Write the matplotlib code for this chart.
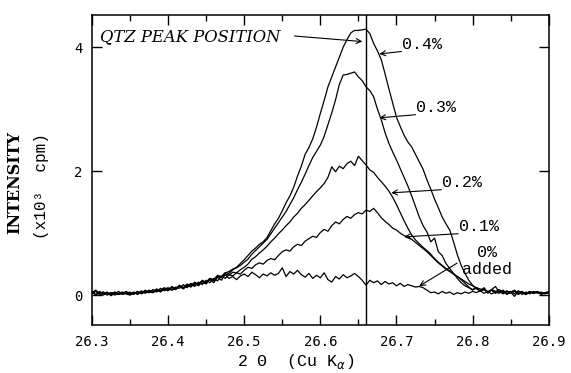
import numpy as np
import matplotlib
matplotlib.use("Agg")
import matplotlib.pyplot as plt
from matplotlib.ticker import MultipleLocator

# Scan angles (2-theta, degrees), 0.005 degree steps
two_theta = np.linspace(26.30, 26.90, 121)

# Intensities (x10^3 cpm) for each additive level
int_0 = [
    0.06, 0.00, 0.04, 0.02, 0.05, -0.01, 0.03, 0.01, 0.04, 0.02,
    0.00, 0.04, 0.02, 0.07, 0.03, 0.06, 0.04, 0.09, 0.05, 0.10,
    0.07, 0.12, 0.09, 0.14, 0.10, 0.16, 0.13, 0.19, 0.15, 0.22,
    0.18, 0.25, 0.20, 0.29, 0.24, 0.33, 0.27, 0.30, 0.25, 0.31,
    0.34, 0.30, 0.37, 0.33, 0.28, 0.34, 0.31, 0.36, 0.32, 0.35,
    0.44, 0.30, 0.38, 0.34, 0.40, 0.33, 0.29, 0.35, 0.27, 0.32,
    0.28, 0.36, 0.25, 0.21, 0.30, 0.26, 0.33, 0.28, 0.31, 0.35,
    0.30, 0.24, 0.16, 0.24, 0.20, 0.23, 0.17, 0.22, 0.18, 0.20,
    0.15, 0.19, 0.14, 0.17, 0.15, 0.13, 0.14, 0.12, 0.08, 0.04,
    0.05, 0.02, 0.06, 0.03, 0.05, 0.01, 0.04, 0.02, 0.05, 0.03,
    0.06, 0.04, 0.07, 0.03, 0.06, 0.02, 0.05, 0.03, 0.07, 0.02,
    0.05, -0.02, 0.06, 0.01, 0.05, 0.02, 0.06, 0.03, 0.05, 0.02,
    0.04,
]
int_01 = [
    0.03, 0.07, 0.01, 0.05, 0.00, 0.04, 0.02, 0.06, 0.01, 0.03,
    0.05, 0.01, 0.06, 0.03, 0.08, 0.04, 0.07, 0.05, 0.11, 0.07,
    0.11, 0.08, 0.13, 0.11, 0.17, 0.12, 0.18, 0.14, 0.21, 0.17,
    0.24, 0.20, 0.27, 0.23, 0.31, 0.27, 0.33, 0.31, 0.36, 0.34,
    0.40, 0.45, 0.43, 0.49, 0.52, 0.50, 0.56, 0.59, 0.57, 0.64,
    0.70, 0.73, 0.71, 0.78, 0.82, 0.80, 0.87, 0.91, 0.95, 0.93,
    1.01, 1.06, 1.03, 1.12, 1.18, 1.15, 1.22, 1.27, 1.24, 1.30,
    1.33, 1.31, 1.37, 1.35, 1.40, 1.33, 1.25, 1.19, 1.14, 1.08,
    1.05, 1.00, 0.96, 0.94, 0.90, 0.85, 0.80, 0.75, 0.70, 0.64,
    0.58, 0.52, 0.47, 0.42, 0.38, 0.34, 0.30, 0.26, 0.22, 0.18,
    0.15, 0.12, 0.10, 0.08, 0.06, 0.08, 0.04, 0.06, 0.03, 0.05,
    0.06, 0.02, 0.07, 0.04, 0.01, 0.05, 0.03, 0.06, 0.02, 0.04,
    0.05,
]
int_02 = [
    0.05, 0.01, 0.06, 0.02, 0.04, 0.00, 0.05, 0.02, 0.03, 0.06,
    0.02, 0.05, 0.01, 0.06, 0.04, 0.08, 0.05, 0.10, 0.06, 0.11,
    0.08, 0.14, 0.10, 0.15, 0.12, 0.18, 0.14, 0.21, 0.17, 0.24,
    0.20, 0.27, 0.23, 0.30, 0.28, 0.34, 0.32, 0.37, 0.36, 0.41,
    0.45, 0.50, 0.58, 0.62, 0.68, 0.73, 0.79, 0.86, 0.92, 0.99,
    1.05, 1.12, 1.18, 1.26, 1.32, 1.40, 1.46, 1.53, 1.60, 1.67,
    1.73, 1.80, 1.90, 2.07, 1.99, 2.08, 2.04, 2.12, 2.16, 2.09,
    2.24, 2.17, 2.10, 2.02, 1.98, 1.90, 1.83, 1.76, 1.68, 1.58,
    1.46, 1.33, 1.20, 1.08, 0.97, 0.89, 0.83, 0.77, 0.72, 0.66,
    0.59, 0.53, 0.48, 0.43, 0.39, 0.34, 0.30, 0.25, 0.19, 0.13,
    0.08, 0.12, 0.06, 0.10, 0.03, 0.09, 0.06, 0.09, 0.04, 0.07,
    0.03, 0.06, 0.01, 0.05, 0.02, 0.06, 0.03, 0.05, 0.01, 0.04,
    0.05,
]
int_03 = [
    0.04, 0.08, 0.02, 0.05, 0.01, 0.04, 0.00, 0.03, 0.05, 0.02,
    0.04, 0.02, 0.05, 0.03, 0.07, 0.04, 0.09, 0.06, 0.08, 0.12,
    0.09, 0.13, 0.10, 0.16, 0.12, 0.17, 0.15, 0.20, 0.18, 0.23,
    0.21, 0.27, 0.25, 0.32, 0.30, 0.36, 0.35, 0.41, 0.44, 0.48,
    0.53, 0.58, 0.66, 0.72, 0.78, 0.84, 0.90, 0.99, 1.08, 1.17,
    1.26, 1.35, 1.46, 1.57, 1.70, 1.82, 1.95, 2.09, 2.22, 2.32,
    2.42, 2.56, 2.75, 2.94, 3.15, 3.40, 3.55, 3.56, 3.58, 3.60,
    3.52, 3.46, 3.36, 3.30, 3.20, 3.00, 2.83, 2.62, 2.45, 2.31,
    2.18, 2.04, 1.90, 1.76, 1.60, 1.43, 1.26, 1.12, 1.02, 0.86,
    0.92, 0.70, 0.64, 0.51, 0.43, 0.35, 0.27, 0.20, 0.15, 0.12,
    0.09, 0.12, 0.06, 0.10, 0.05, 0.08, 0.03, 0.07, 0.02, 0.06,
    0.04, 0.07, 0.02, 0.05, 0.01, 0.06, 0.03, 0.05, 0.02, 0.04,
    0.03,
]
int_04 = [
    0.02, 0.06, 0.03, 0.00, 0.04, 0.02, 0.05, 0.01, 0.03, 0.04,
    0.01, 0.03, 0.06, 0.02, 0.05, 0.07, 0.04, 0.08, 0.07, 0.09,
    0.12, 0.08, 0.11, 0.15, 0.11, 0.14, 0.19, 0.16, 0.20, 0.19,
    0.20, 0.26, 0.24, 0.31, 0.29, 0.36, 0.38, 0.42, 0.45, 0.51,
    0.57, 0.64, 0.71, 0.76, 0.82, 0.86, 0.93, 1.04, 1.15, 1.24,
    1.36, 1.49, 1.60, 1.74, 1.92, 2.08, 2.27, 2.38, 2.52, 2.71,
    2.93, 3.14, 3.36, 3.52, 3.68, 3.84, 4.00, 4.12, 4.23, 4.27,
    4.27, 4.28, 4.29, 4.22, 4.06, 3.94, 3.80, 3.57, 3.33, 3.10,
    2.87, 2.72, 2.58, 2.47, 2.39, 2.27, 2.15, 2.03, 1.86, 1.71,
    1.55, 1.41, 1.26, 1.15, 1.05, 0.86, 0.65, 0.48, 0.35, 0.24,
    0.16, 0.10, 0.07, 0.12, 0.04, 0.09, 0.14, 0.05, 0.08, 0.01,
    0.05, 0.08, 0.03, 0.06, 0.02, 0.05, 0.04, 0.06, 0.02, 0.03,
    0.04,
]

series = [int_0, int_01, int_02, int_03, int_04]

# Quartz reference peak position
qtz_peak = 26.66

# Curve labels: (text, text position, arrow tip)
labels = [
    ("0.4%", (26.7076, 4.04), (26.6775, 3.89)),
    ("0.3%", (26.7260, 3.02), (26.6775, 2.86)),
    ("0.2%", (26.7600, 1.81), (26.6932, 1.65)),
    ("0.1%", (26.7820, 1.10), (26.7100, 0.94)),
]

fig = plt.figure(figsize=(5.71, 3.73), dpi=100)
ax = fig.add_axes([0.161, 0.129, 0.800, 0.831])

for y in series:
    ax.plot(two_theta, y, color="black", lw=0.9)

ax.axvline(qtz_peak, color="black", lw=1.0)

ax.set_xlim(26.3, 26.9)
ax.set_ylim(-0.48, 4.52)
ax.xaxis.set_minor_locator(MultipleLocator(0.05))
ax.yaxis.set_major_locator(MultipleLocator(2))
ax.set_xticks([26.3, 26.4, 26.5, 26.6, 26.7, 26.8, 26.9])
ax.set_xticklabels(["26.3", "26.4", "26.5", "26.6", "26.7", "26.8", "26.9"])
ax.tick_params(which="both", direction="in", top=True, right=True, width=1.0)
ax.tick_params(which="major", length=7, pad=7)
ax.tick_params(which="minor", length=4)
for lab in ax.get_xticklabels() + ax.get_yticklabels():
    lab.set_fontfamily("DejaVu Sans Mono")
    lab.set_fontsize(10)
for sp in ax.spines.values():
    sp.set_linewidth(1.1)

mono = "Liberation Mono"
arrow = dict(arrowstyle="->", color="black", lw=0.8,
             shrinkA=0, shrinkB=0, mutation_scale=9)

ax.text(26.3105, 4.17, "QTZ PEAK POSITION", family="DejaVu Serif",
        style="italic", fontsize=11.8, ha="left", va="center")
ax.annotate("", xy=(26.6552, 4.09), xytext=(26.5660, 4.18), arrowprops=arrow)

for text, (tx, ty), tip in labels:
    ax.text(tx, ty, text, family=mono, fontsize=12, ha="left", va="center")
    ax.annotate("", xy=tip, xytext=(tx - 0.001, ty - 0.11), arrowprops=arrow)

ax.text(26.806, 0.695, "0%", family=mono, fontsize=12, ha="left", va="center")
ax.text(26.786, 0.42, "added", family=mono, fontsize=12, ha="left", va="center")
ax.annotate("", xy=(26.7299, 0.145), xytext=(26.7797, 0.517), arrowprops=arrow)

fig.text(0.026, 0.51, "INTENSITY", family="DejaVu Serif", weight="bold",
         fontsize=11.5, rotation=90, ha="center", va="center")
fig.text(0.072, 0.50, "(x10³  cpm)", family=mono, fontsize=11.5,
         rotation=90, ha="center", va="center")
fig.text(0.518, 0.03, r"2 Θ  (Cu K$_\alpha$)", family=mono, fontsize=12,
         ha="center", va="center")

fig.savefig("out.png", dpi=100)
